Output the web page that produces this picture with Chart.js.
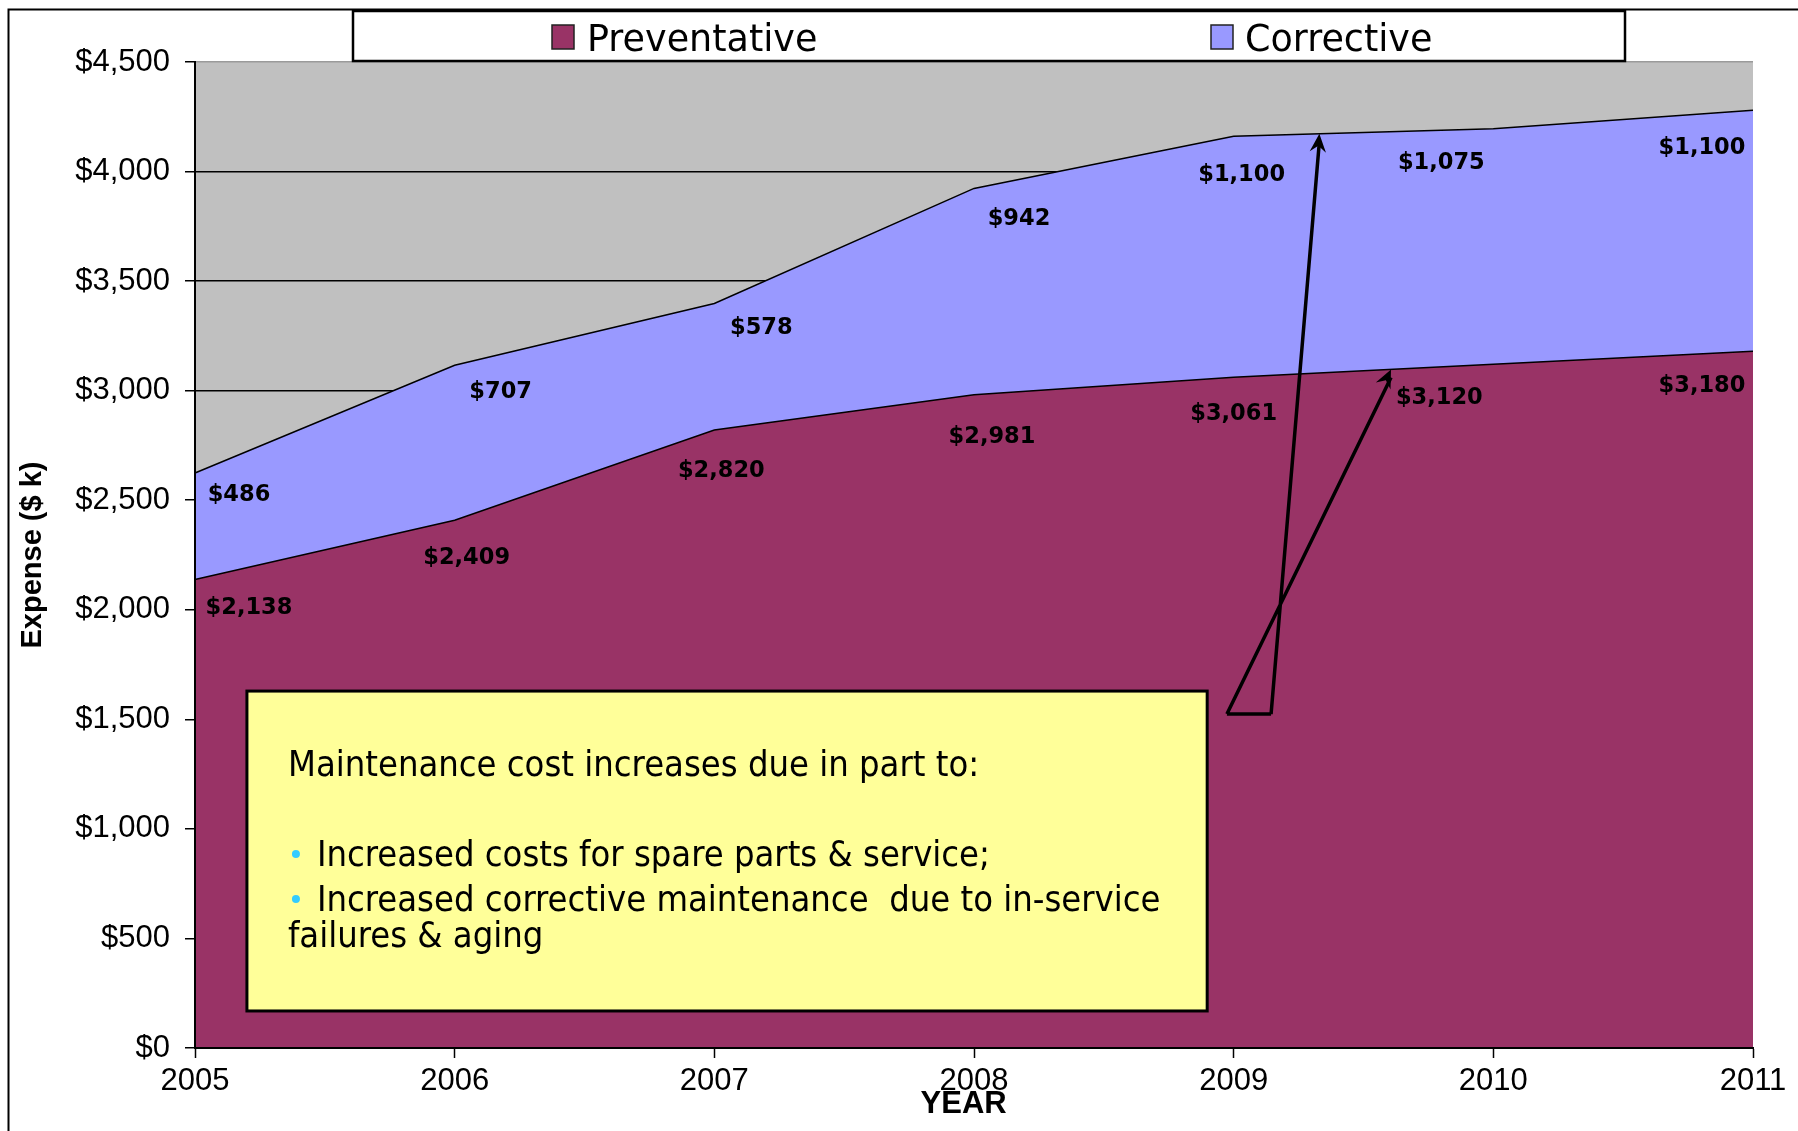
<!DOCTYPE html>
<html>
<head>
<meta charset="utf-8">
<title>Maintenance Expense</title>
<script src="https://cdn.jsdelivr.net/npm/chart.js@4.4.1/dist/chart.umd.min.js"></script>
<style>
  html, body { margin: 0; padding: 0; background: #fff; }
  #wrap { width: 1798px; height: 1131px; }
</style>
</head>
<body>
<div id="wrap"><canvas id="expenseChart" width="1798" height="1131"></canvas></div>
<script>
// Data
const years = ['2005', '2006', '2007', '2008', '2009', '2010', '2011'];
const preventative = [2138, 2409, 2820, 2981, 3061, 3120, 3180];
const corrective = [486, 707, 578, 942, 1100, 1075, 1100];
const seriesNames = ['Preventative', 'Corrective'];
const yMin = 0, yMax = 4500, yStep = 500;

const noteTitle = 'Maintenance cost increases due in part to:';
const noteBullets = ['Increased costs for spare parts & service;', 'Increased corrective maintenance  due to in-service'];
const noteTail = 'failures & aging';

// Label nudges (px) so the values sit where Excel put them
const prevDx = [54, 12, 7, 18, 0, -54, -51];
const prevDy = [29, 38, 41, 42, 37, 34, 35];
const corrDx = [44, 46, 47, 45, 8, -52, -51];
const corrDy = [22, 27, 25, 31, 39, 34, 38];

const COL_PREV = '#993366';
const COL_CORR = '#9999FF';
const COL_PLOT = '#C0C0C0';
const FONT_AX = '"Liberation Sans", Arial, sans-serif';
const FONT_UI = '"DejaVu Sans", Verdana, sans-serif';

const money = v => '$' + Number(v).toLocaleString('en-US');

const plotBg = {
    id: 'plotBg',
    beforeDraw(chart) {
        const { ctx, chartArea: a } = chart;
        ctx.save();
        ctx.fillStyle = COL_PLOT;
        ctx.fillRect(a.left, a.top, a.right - a.left, a.bottom - a.top);
        ctx.restore();
    }
};

const valueLabels = {
    id: 'valueLabels',
    afterDatasetsDraw(chart) {
        const { ctx } = chart;
        const x = chart.scales.x, y = chart.scales.y;
        ctx.save();
        ctx.font = 'bold 22.5px ' + FONT_UI;
        ctx.fillStyle = '#000';
        ctx.textAlign = 'center';
        ctx.textBaseline = 'middle';
        years.forEach((yr, i) => {
            const px = x.getPixelForValue(i);
            ctx.fillText(money(preventative[i]), px + prevDx[i], y.getPixelForValue(preventative[i]) + prevDy[i]);
            ctx.fillText(money(corrective[i]), px + corrDx[i], y.getPixelForValue(preventative[i] + corrective[i]) + corrDy[i]);
        });
        ctx.restore();
    }
};

function arrowHead(ctx, x0, y0, x1, y1) {
    const ang = Math.atan2(y1 - y0, x1 - x0);
    const len = 20, wing = 0.42;
    ctx.beginPath();
    ctx.moveTo(x1, y1);
    ctx.lineTo(x1 - len * Math.cos(ang - wing), y1 - len * Math.sin(ang - wing));
    ctx.lineTo(x1 - len * 0.6 * Math.cos(ang), y1 - len * 0.6 * Math.sin(ang));
    ctx.lineTo(x1 - len * Math.cos(ang + wing), y1 - len * Math.sin(ang + wing));
    ctx.closePath();
    ctx.fill();
}

const overlay = {
    id: 'overlay',
    afterDraw(chart) {
        const { ctx } = chart;
        const x = chart.scales.x, y = chart.scales.y;
        ctx.save();

        // outer frame
        ctx.strokeStyle = '#000';
        ctx.lineWidth = 2;
        ctx.beginPath();
        ctx.moveTo(8.5, 1131); ctx.lineTo(8.5, 9.5); ctx.lineTo(1798, 9.5);
        ctx.stroke();

        // legend
        ctx.fillStyle = '#fff';
        ctx.fillRect(353, 11, 1272, 50);
        ctx.lineWidth = 2.5;
        ctx.strokeRect(353, 11, 1272, 50);
        const lx = [552, 1211], tx = [587, 1245];
        chart.data.datasets.forEach((ds, i) => {
            ctx.fillStyle = ds.backgroundColor;
            ctx.fillRect(lx[i], 25, 22, 24);
            ctx.lineWidth = 1.5;
            ctx.strokeStyle = '#222';
            ctx.strokeRect(lx[i], 25, 22, 24);
            ctx.fillStyle = '#000';
            ctx.font = '36.5px ' + FONT_UI;
            ctx.textBaseline = 'alphabetic';
            ctx.fillText(ds.label, tx[i], 51);
        });

        // x-axis title, sitting a touch left of centre as in the original
        ctx.font = 'bold 31px ' + FONT_AX;
        ctx.textAlign = 'center';
        ctx.textBaseline = 'middle';
        ctx.fillStyle = '#000';
        ctx.fillText('YEAR', x.getPixelForValue(2.96), 1104);

        // note box
        const bx0 = x.getPixelForValue(0.2), bx1 = x.getPixelForValue(3.898);
        const by0 = y.getPixelForValue(1629), by1 = y.getPixelForValue(169);
        ctx.fillStyle = '#FFFF99';
        ctx.fillRect(bx0, by0, bx1 - bx0, by1 - by0);
        ctx.strokeStyle = '#000';
        ctx.lineWidth = 3;
        ctx.strokeRect(bx0, by0, bx1 - bx0, by1 - by0);

        ctx.font = '36px "DejaVu Sans Condensed", "DejaVu Sans", sans-serif';
        ctx.fillStyle = '#000';
        ctx.textAlign = 'left';
        ctx.textBaseline = 'alphabetic';
        ctx.fillText(noteTitle, bx0 + 41, by0 + 85);
        const bulletY = [by0 + 175, by0 + 220];
        noteBullets.forEach((t, i) => {
            ctx.fillStyle = '#33CCFF';
            ctx.beginPath();
            ctx.arc(bx0 + 49, bulletY[i] - 12, 4, 0, Math.PI * 2);
            ctx.fill();
            ctx.fillStyle = '#000';
            ctx.fillText(t, bx0 + 70, bulletY[i]);
        });
        ctx.fillText(noteTail, bx0 + 41, by0 + 256);

        // arrows from the note to the two curves
        const f1 = 0.33, f2 = 0.606;
        const top9 = preventative[4] + corrective[4], top10 = preventative[5] + corrective[5];
        const tip1 = [x.getPixelForValue(4 + f1), y.getPixelForValue(top9 + f1 * (top10 - top9))];
        const tip2 = [x.getPixelForValue(4 + f2), y.getPixelForValue(preventative[4] + f2 * (preventative[5] - preventative[4]))];
        const baseY = y.getPixelForValue(1524);
        const baseL = x.getPixelForValue(3.974), baseR = x.getPixelForValue(4.144);
        ctx.strokeStyle = '#000';
        ctx.fillStyle = '#000';
        ctx.lineWidth = 3.5;
        ctx.beginPath();
        ctx.moveTo(baseL, baseY); ctx.lineTo(baseR, baseY);
        ctx.moveTo(baseR, baseY); ctx.lineTo(tip1[0], tip1[1] + 8);
        ctx.moveTo(baseL, baseY); ctx.lineTo(tip2[0], tip2[1] + 8);
        ctx.stroke();
        arrowHead(ctx, baseR, baseY, tip1[0], tip1[1]);
        arrowHead(ctx, baseL, baseY, tip2[0], tip2[1]);

        ctx.restore();
    }
};

const ctxEl = document.getElementById('expenseChart').getContext('2d');
const chart = new Chart(ctxEl, {
    type: 'line',
    data: {
        labels: years,
        datasets: [
            { label: seriesNames[0], data: preventative, backgroundColor: COL_PREV, borderColor: '#000', borderWidth: 1.5, fill: 'origin', pointRadius: 0, tension: 0 },
            { label: seriesNames[1], data: corrective, backgroundColor: COL_CORR, borderColor: '#000', borderWidth: 1.5, fill: '-1', pointRadius: 0, tension: 0 }
        ]
    },
    options: {
        responsive: false,
        animation: false,
        devicePixelRatio: 1,
        layout: { padding: { top: 62, right: 45, bottom: 0, left: 0 } },
        plugins: { legend: { display: false }, tooltip: { enabled: false } },
        scales: {
            x: {
                offset: false,
                grid: { drawOnChartArea: false, drawTicks: true, tickLength: 10, tickColor: '#000', tickWidth: 1.5 },
                border: { display: true, color: '#000', width: 2, z: 1 },
                ticks: { color: '#000', font: { family: FONT_AX, size: 31 }, padding: 5, maxRotation: 0, autoSkip: false },
                afterFit: s => { s.height = 83; }
            },
            y: {
                stacked: true,
                min: yMin, max: yMax,
                grid: { color: c => (c.tick && c.tick.value === yMax) ? '#9a9a9a' : '#000', lineWidth: 1.5, tickLength: 10, tickColor: '#000' },
                border: { display: true, color: '#000', width: 2, z: 1 },
                ticks: { stepSize: yStep, color: '#000', font: { family: FONT_AX, size: 31 }, padding: 15, callback: v => money(v) },
                title: { display: true, text: 'Expense ($ k)', color: '#000', font: { family: FONT_AX, size: 29, weight: 'bold' }, padding: { top: 16, bottom: 0 } },
                afterFit: s => { s.width = 195; }
            }
        }
    },
    plugins: [plotBg, valueLabels, overlay]
});
</script>
</body>
</html>
